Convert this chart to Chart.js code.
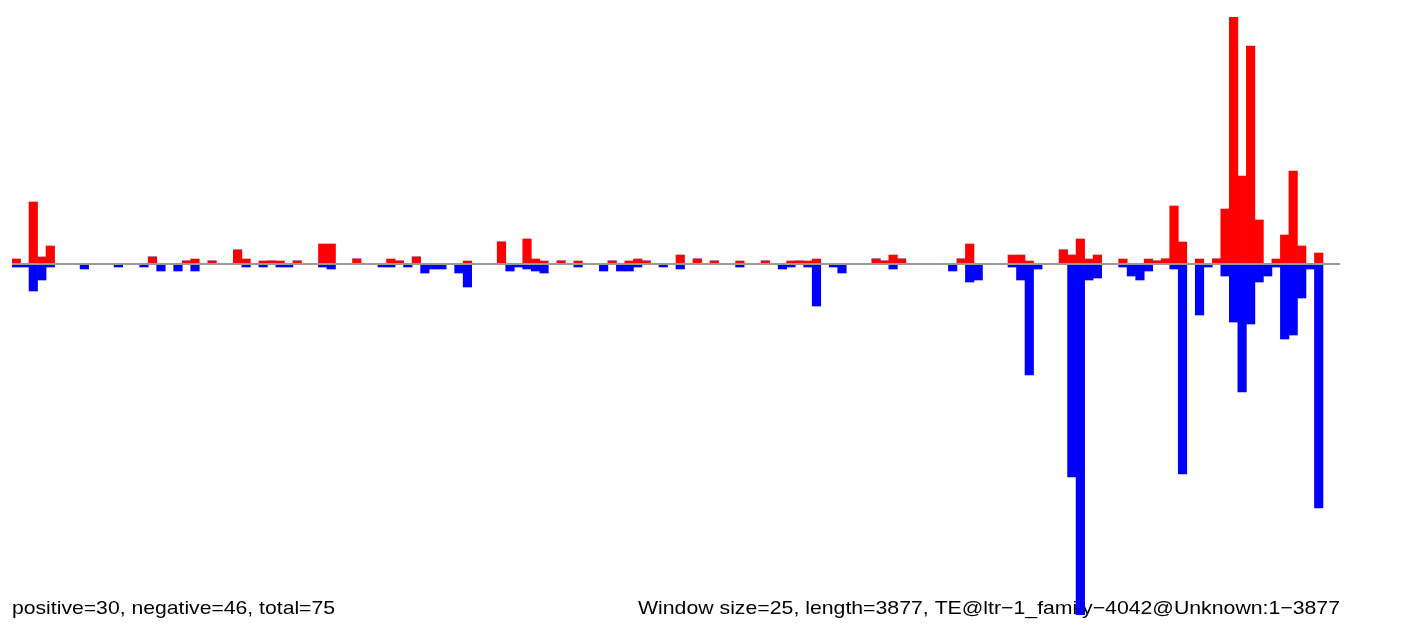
<!DOCTYPE html>
<html>
<head>
<meta charset="utf-8">
<script src="https://cdn.jsdelivr.net/npm/chart.js@4/dist/chart.umd.min.js"></script>
<style>
  body { margin: 0; background: #fff; }
</style>
</head>
<body>
<canvas id="chart" width="1412" height="626"></canvas>
<script>
// window start positions (window size 25, length 3877)
const windowStarts = Array.from({ length: 156 }, (_, i) => i * 25 + 1);

// positive strand depth per window
const positive = [
  5, 0, 62, 7, 18, 0, 0, 0, 0, 0, 0, 0, 0, 0, 0, 0, 7, 0, 0, 0,
  3, 5, 0, 3, 0, 0, 14, 5, 0, 3, 3, 3, 0, 3, 0, 0, 20, 20, 0, 0,
  5, 0, 0, 0, 5, 3, 0, 7, 0, 0, 0, 0, 0, 3, 0, 0, 0, 22, 0, 0,
  25, 5, 3, 0, 3, 0, 3, 0, 0, 0, 3, 0, 3, 5, 3, 0, 0, 0, 9, 0,
  5, 0, 3, 0, 0, 3, 0, 0, 3, 0, 0, 3, 3, 3, 5, 0, 0, 0, 0, 0,
  0, 5, 3, 9, 5, 0, 0, 0, 0, 0, 0, 5, 20, 0, 0, 0, 0, 9, 9, 3,
  0, 0, 0, 14, 9, 25, 5, 9, 0, 0, 5, 0, 0, 5, 3, 5, 58, 22, 0, 5,
  0, 5, 55, 247, 88, 218, 44, 0, 5, 29, 93, 18, 0, 11, 0, 0
];

// negative strand depth per window (drawn below the axis)
const negative = [
  3, 3, 27, 16, 3, 0, 0, 0, 5, 0, 0, 0, 3, 0, 0, 3, 0, 7, 0, 7,
  0, 7, 0, 0, 0, 0, 0, 3, 0, 3, 0, 3, 3, 0, 0, 0, 3, 5, 0, 0,
  0, 0, 0, 3, 3, 0, 3, 0, 9, 5, 5, 0, 9, 23, 0, 0, 0, 0, 7, 3,
  5, 7, 9, 0, 0, 0, 3, 0, 0, 7, 0, 7, 7, 3, 0, 0, 3, 0, 5, 0,
  0, 0, 0, 0, 0, 3, 0, 0, 0, 0, 5, 3, 0, 3, 42, 0, 3, 9, 0, 0,
  0, 0, 0, 5, 0, 0, 0, 0, 0, 0, 7, 0, 18, 16, 0, 0, 0, 3, 16, 111,
  5, 0, 0, 0, 213, 351, 16, 14, 0, 0, 3, 12, 16, 7, 0, 0, 5, 210, 0, 51,
  3, 0, 12, 58, 128, 60, 18, 12, 3, 75, 71, 34, 5, 244, 0, 0
];

const leftNote = "positive=30, negative=46, total=75";
const rightNote = "Window size=25, length=3877, TE@ltr\u22121_family\u22124042@Unknown:1\u22123877";

// draw text squeezed into a given width (the original captions are wide)
function wideText(ctx, text, x, y, width, align) {
  const w = ctx.measureText(text).width;
  const sx = width / w;
  ctx.save();
  const left = align === "right" ? x - width : x;
  ctx.translate(left, y);
  ctx.scale(sx, 1);
  ctx.textAlign = "left";
  ctx.fillText(text, 0, 0);
  ctx.restore();
}

// captions go under the bars, baseline line goes over them
const overlay = {
  id: "overlay",
  beforeDatasetsDraw(chart) {
    const ctx = chart.ctx;
    ctx.save();
    ctx.fillStyle = "#000";
    ctx.font = "18.6px 'Liberation Sans', Arial, sans-serif";
    ctx.textBaseline = "alphabetic";
    wideText(ctx, leftNote, 12, 614, 323, "left");
    wideText(ctx, rightNote, 1340, 614, 702, "right");
    ctx.restore();
  },
  afterDatasetsDraw(chart) {
    const ctx = chart.ctx;
    const area = chart.chartArea;
    const y0 = chart.scales.y.getPixelForValue(0);
    ctx.save();
    ctx.strokeStyle = "#999999";
    ctx.lineWidth = 2;
    ctx.beginPath();
    ctx.moveTo(area.left, y0);
    ctx.lineTo(area.right, y0);
    ctx.stroke();
    ctx.restore();
  }
};

new Chart(document.getElementById("chart"), {
  type: "bar",
  data: {
    labels: windowStarts,
    datasets: [
      {
        label: "positive",
        data: positive,
        backgroundColor: "#ff0000",
        barPercentage: 1,
        categoryPercentage: 1
      },
      {
        label: "negative",
        data: negative.map(v => -v),
        backgroundColor: "#0000ff",
        barPercentage: 1,
        categoryPercentage: 1
      }
    ]
  },
  options: {
    responsive: false,
    animation: false,
    layout: { padding: { left: 12, right: 72, top: 17, bottom: 11 } },
    plugins: {
      legend: { display: false },
      tooltip: { enabled: false }
    },
    scales: {
      x: { stacked: true, display: false },
      y: { stacked: true, display: false, min: -351, max: 247 }
    }
  },
  plugins: [overlay]
});
</script>
</body>
</html>
